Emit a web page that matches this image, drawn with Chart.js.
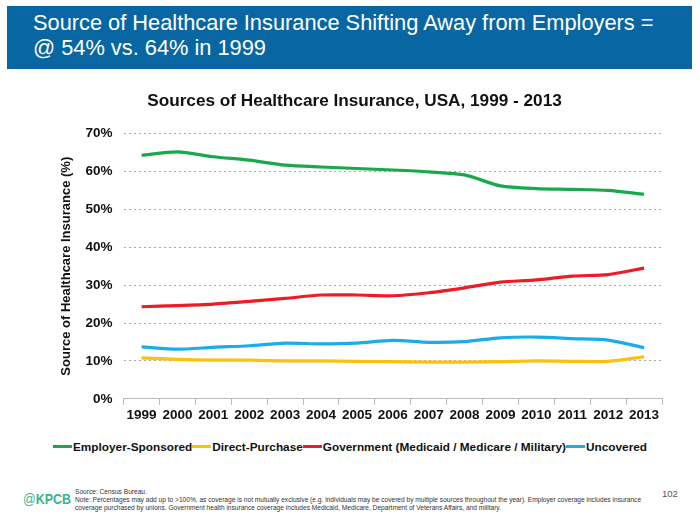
<!DOCTYPE html>
<html><head><meta charset="utf-8">
<script src="https://cdn.jsdelivr.net/npm/chart.js@4"></script>
<style>
html,body{margin:0;padding:0;background:#fff;width:700px;height:525px;overflow:hidden;font-family:Arial,"Liberation Sans",sans-serif;}
#hdr{position:absolute;left:7px;top:6px;width:685px;height:63px;background:#0867a2;}
#hdr div{position:absolute;left:26px;top:4px;color:#fff;font-size:21.8px;line-height:25px;}
#wrap{position:absolute;left:0;top:84px;width:700px;height:345px;}
#legend{position:absolute;left:0;top:440px;width:700px;text-align:center;white-space:nowrap;font-size:11.8px;font-weight:bold;color:#111;}
#legend .it{display:inline-block;}
#legend .ln{display:inline-block;width:19px;height:3px;vertical-align:middle;margin-right:1px;position:relative;top:-1px;}
#kpcb{position:absolute;left:23px;top:490px;color:#3cb38a;font-size:15px;font-weight:bold;transform:scaleX(0.83);transform-origin:left top;}
#kpcb span{font-weight:normal;}
#note{position:absolute;left:75px;top:488px;font-size:6.6px;line-height:8.2px;color:#333;width:590px;}
#pg{position:absolute;left:662px;top:488px;font-size:9.5px;color:#555;}
</style></head><body>
<div id="hdr"><div>Source of Healthcare Insurance Shifting Away from Employers =<br>@ 54% vs. 64% in 1999</div></div>
<div id="wrap"><canvas id="c"></canvas></div>
<div id="legend"></div>
<div id="kpcb"><span>@</span>KPCB</div>
<div id="note">Source: Census Bureau.<br>Note: Percentages may add up to &gt;100%, as coverage is not mutually exclusive (e.g. individuals may be covered by multiple sources throughout the year). Employer coverage includes insurance coverage purchased by unions. Government health insurance coverage includes Medicaid, Medicare, Department of Veterans Affairs, and military.</div>
<div id="pg">102</div>
<script>
const years = ["1999","2000","2001","2002","2003","2004","2005","2006","2007","2008","2009","2010","2011","2012","2013"];
const employer = [64.3,65.2,63.9,63.0,61.7,61.2,60.8,60.4,59.9,59.1,56.2,55.5,55.3,55.0,54.0];
const direct = [10.8,10.4,10.2,10.2,10.0,10.0,9.9,9.8,9.7,9.7,9.8,10.0,9.9,9.9,11.1];
const government = [24.3,24.6,25.0,25.7,26.5,27.4,27.4,27.2,28.0,29.3,30.8,31.4,32.4,32.8,34.5];
const uncovered = [13.7,13.1,13.6,14.0,14.7,14.5,14.7,15.4,14.9,15.1,16.1,16.3,15.9,15.5,13.5];
const yTicks = [0,10,20,30,40,50,60,70];

const FONT = 'Arial, "Liberation Sans", sans-serif';
function ds(label, data, color){
  return {label, data, borderColor:color, backgroundColor:color, borderWidth:3.2, pointRadius:0, tension:0.25, fill:false};
}
const chart = new Chart(document.getElementById('c'), {
  type:'line',
  data:{labels:years, datasets:[
    ds('Employer-Sponsored', employer, '#1aa84b'),
    ds('Direct-Purchase', direct, '#fbc10e'),
    ds('Government (Medicaid / Medicare / Military)', government, '#ee1c24'),
    ds('Uncovered', uncovered, '#1badeb')
  ]},
  options:{
    responsive:true, maintainAspectRatio:false, animation:false,
    layout:{padding:{left:47,right:38,top:0,bottom:4}},
    plugins:{
      title:{display:true, text:'Sources of Healthcare Insurance, USA, 1999 - 2013', color:'#111', font:{family:FONT,size:17.2,weight:'bold'}, padding:{top:7,bottom:22}},
      legend:{display:false},
      tooltip:{enabled:false}
    },
    scales:{
      x:{offset:true,
        grid:{offset:true, drawOnChartArea:false, drawTicks:true, tickLength:6, color:'#bbb'},
        border:{display:true, color:'#bbb', width:1},
        ticks:{color:'#111', font:{family:FONT,size:13.5,weight:'bold'}, padding:2, maxRotation:0}
      },
      y:{min:0,max:70,
        afterBuildTicks:(s)=>{s.ticks = yTicks.map(v=>({value:v}));},
        grid:{color:'#aaa', borderDash:[2,3], drawTicks:false, lineWidth:1},
        border:{display:false, dash:[2,3]},
        ticks:{color:'#111', padding:11, font:{family:FONT,size:13.5,weight:'bold'}, callback:(v)=>v+'%'},
        title:{display:true, text:'Source of Healthcare Insurance (%)', color:'#111', font:{family:FONT,size:13,weight:'bold'}, padding:{top:12,bottom:0}}
      }
    }
  }
});
const lg = document.getElementById('legend');
chart.data.datasets.forEach(d=>{
  const it = document.createElement('span'); it.className='it';
  const ln = document.createElement('span'); ln.className='ln'; ln.style.background=d.borderColor;
  it.appendChild(ln); it.appendChild(document.createTextNode(d.label));
  lg.appendChild(it);
});
</script>
</body></html>
